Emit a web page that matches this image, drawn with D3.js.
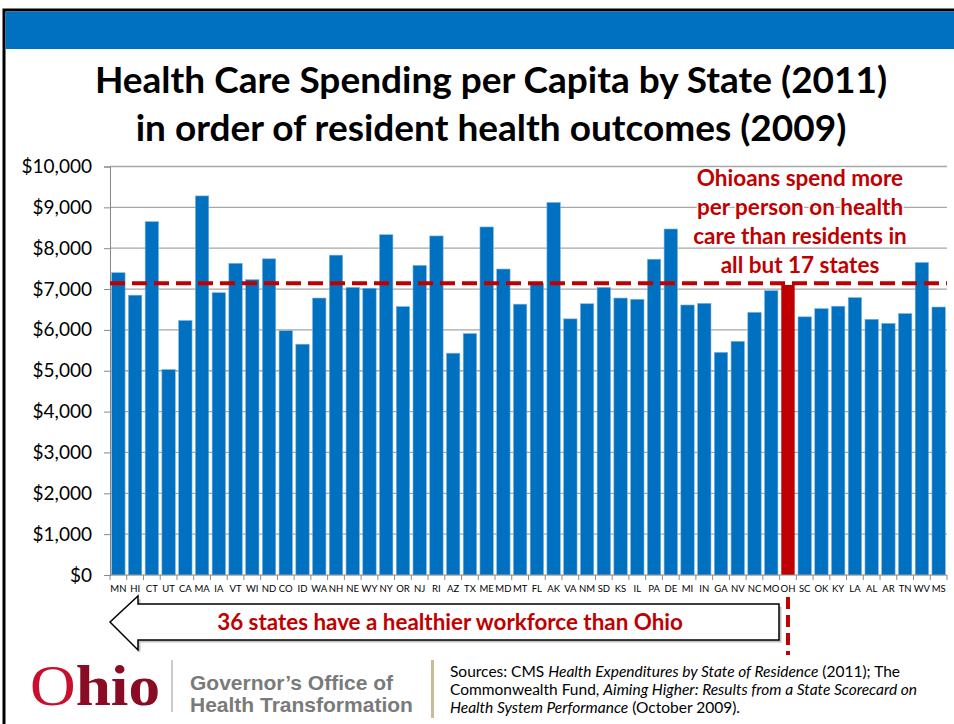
<!DOCTYPE html>
<html>
<head>
<meta charset="utf-8">
<script src="https://cdn.jsdelivr.net/npm/d3@7"></script>
<style>
  body { margin: 0; background: #fff; }
  svg { display: block; font-family: Lato, "Open Sans", sans-serif; }
</style>
</head>
<body>
<div id="chart"></div>
<script>
// states in order of health outcomes (2009), spending per capita (2011)
const states = ["MN","HI","CT","UT","CA","MA","IA","VT","WI","ND","CO","ID","WA","NH","NE","WY","NY","OR","NJ","RI",
  "AZ","TX","ME","MD","MT","FL","AK","VA","NM","SD","KS","IL","PA","DE","MI","IN","GA","NV","NC","MO",
  "OH","SC","OK","KY","LA","AL","AR","TN","WV","MS"];
const spending = [7400,6850,8650,5030,6230,9280,6910,7630,7230,7740,5980,5650,6780,7830,7040,7020,8330,6570,7580,8300,
  5430,5910,8520,7490,6630,7140,9120,6270,6640,7040,6780,6750,7730,8470,6610,6650,5450,5720,6430,6960,
  7100,6320,6520,6580,6790,6260,6160,6400,7650,6560];
const yTicks = [0,1000,2000,3000,4000,5000,6000,7000,8000,9000,10000];
const ohioLevel = 7140;
const titleLines = ["Health Care Spending per Capita by State (2011)", "in order of resident health outcomes (2009)"];
const noteLines = ["Ohioans spend more", "per person on health", "care than residents in", "all but 17 states"];

const W = 954, H = 724;
const blue = "#0070C0", red = "#C00000";

const svg = d3.select("#chart")
.append("svg")
.attr("width", W)
.attr("height", H);

// slide frame + header band
svg.append("rect").attr("x", 4).attr("y", 10).attr("width", 1000).attr("height", 800)
  .attr("fill", "none").attr("stroke", "#000").attr("stroke-width", 3);
svg.append("rect").attr("x", 5.5).attr("y", 11.5).attr("width", 960).attr("height", 37.5).attr("fill", blue);

// title
svg.selectAll(".title")
  .data(titleLines)
  .join("text")
  .attr("class", "title")
  .attr("x", 491)
  .attr("y", (d, i) => 93 + i * 48)
  .attr("text-anchor", "middle")
  .attr("font-size", 37)
  .attr("font-weight", "bold")
  .attr("fill", "#000")
  .text(d => d);

const x = d3.scaleBand().domain(states).range([110, 947]).paddingInner(0.2).paddingOuter(0.1);
const y = d3.scaleLinear().domain([0, 10000]).range([575, 166.5]);

// gridlines
svg.append("g")
  .selectAll("line")
  .data(yTicks.slice(1))
  .join("line")
  .attr("x1", 110).attr("x2", 947)
  .attr("y1", d => y(d)).attr("y2", d => y(d))
  .attr("stroke", "#a6a6a6").attr("stroke-width", 1.3);

// y axis
const yAxis = svg.append("g")
  .attr("transform", "translate(110,0)")
  .call(d3.axisLeft(y).tickValues(yTicks).tickSize(6).tickPadding(12)
    .tickFormat(d => "$" + d3.format(",")(d)));
yAxis.select(".domain").attr("stroke", "#888");
yAxis.selectAll(".tick line").attr("stroke", "#888");
yAxis.selectAll("text").attr("font-size", 19).attr("fill", "#000").attr("font-family", "Lato, sans-serif");

// bars
svg.append("g")
  .selectAll("rect")
  .data(states)
  .join("rect")
  .attr("x", d => x(d))
  .attr("width", x.bandwidth())
  .attr("y", (d, i) => y(spending[i]))
  .attr("height", (d, i) => y(0) - y(spending[i]))
  .attr("fill", d => d === "OH" ? red : blue)
  .attr("stroke", d => d === "OH" ? "none" : "#7fb3dd")
  .attr("stroke-width", 0.6);

// x axis with ticks at band boundaries
const xg = svg.append("g");
xg.append("line").attr("x1", 110).attr("x2", 947).attr("y1", y(0)).attr("y2", y(0)).attr("stroke", "#888");
const edges = states.map(d => x(d) - x.step() * x.paddingInner() / 2).concat([947]);
xg.selectAll(".xt")
  .data(edges)
  .join("line")
  .attr("class", "xt")
  .attr("x1", d => d).attr("x2", d => d)
  .attr("y1", y(0)).attr("y2", y(0) + 5)
  .attr("stroke", "#888");
xg.selectAll(".xl")
  .data(states)
  .join("text")
  .attr("class", "xl")
  .attr("x", d => x(d) + x.bandwidth() / 2)
  .attr("y", 592)
  .attr("text-anchor", "middle")
  .attr("font-size", 9.5)
  .attr("fill", "#000")
  .text(d => d);

// Ohio level dashed line
svg.append("line")
  .attr("x1", 110).attr("x2", 947)
  .attr("y1", y(ohioLevel)).attr("y2", y(ohioLevel))
  .attr("stroke", red).attr("stroke-width", 4).attr("stroke-dasharray", "15,7");

// note text
svg.selectAll(".note")
  .data(noteLines)
  .join("text")
  .attr("class", "note")
  .attr("x", 800)
  .attr("y", (d, i) => 186 + i * 29)
  .attr("text-anchor", "middle")
  .attr("font-size", 22.5)
  .attr("font-weight", "bold")
  .attr("fill", red)
  .attr("stroke", "#fff").attr("stroke-width", 3).attr("paint-order", "stroke")
  .text(d => d);

// vertical dashed marker under OH
const ohX = x("OH") + x.bandwidth() / 2;
svg.append("line")
  .attr("x1", ohX).attr("x2", ohX)
  .attr("y1", 597).attr("y2", 655)
  .attr("stroke", red).attr("stroke-width", 4).attr("stroke-dasharray", "12,6");

// arrow
const arrowPts = [[110, 622], [138, 596], [138, 604], [779, 604], [779, 640], [138, 640], [138, 650]];
const arrowPath = "M" + arrowPts.map(p => p.join(",")).join("L") + "Z";
svg.append("path").attr("d", arrowPath).attr("transform", "translate(2.5,2.5)").attr("fill", "#999").attr("opacity", 0.6);
svg.append("path").attr("d", arrowPath).attr("fill", "#fff").attr("stroke", "#000").attr("stroke-width", 1.5);
svg.append("text")
  .attr("x", 450).attr("y", 630)
  .attr("text-anchor", "middle")
  .attr("font-size", 22.4)
  .attr("font-weight", "bold")
  .attr("fill", red)
  .text("36 states have a healthier workforce than Ohio");

// footer: logo
const logo = svg.append("text").attr("x", 30).attr("y", 705)
  .attr("font-family", "'Liberation Serif', 'DejaVu Serif', serif").attr("font-size", 58)
  .attr("textLength", 130).attr("lengthAdjust", "spacingAndGlyphs");
logo.append("tspan").attr("fill", "#C8102E").attr("font-weight", "normal").text("O");
logo.append("tspan").attr("fill", "#8A0B24").attr("font-weight", "bold").text("hio");
svg.append("line").attr("x1", 172).attr("x2", 172).attr("y1", 660).attr("y2", 712).attr("stroke", "#bbb").attr("stroke-width", 1.5);
svg.selectAll(".gov")
  .data(["Governor\u2019s Office of", "Health Transformation"])
  .join("text")
  .attr("class", "gov")
  .attr("x", 190)
  .attr("y", (d, i) => 690 + i * 22)
  .attr("font-family", "'Liberation Sans', Arial, sans-serif")
  .attr("font-size", 21)
  .attr("font-weight", "bold")
  .attr("fill", "#7a7a7a")
  .text(d => d);
svg.append("rect").attr("x", 431).attr("y", 660).attr("width", 3).attr("height", 58).attr("fill", "#c9bd96");

// sources
const src = [
  [["Sources: CMS ", false], ["Health Expenditures by State of Residence", true], [" (2011); The", false]],
  [["Commonwealth Fund, ", false], ["Aiming Higher: Results from a State Scorecard on", true]],
  [["Health System Performance", true], [" (October 2009).", false]]
];
src.forEach((line, i) => {
  const t = svg.append("text").attr("x", 450).attr("y", 677 + i * 18).attr("font-size", 15.5).attr("fill", "#000");
  line.forEach(seg => {
    t.append("tspan").attr("font-style", seg[1] ? "italic" : "normal").text(seg[0]);
  });
});
</script>
</body>
</html>
